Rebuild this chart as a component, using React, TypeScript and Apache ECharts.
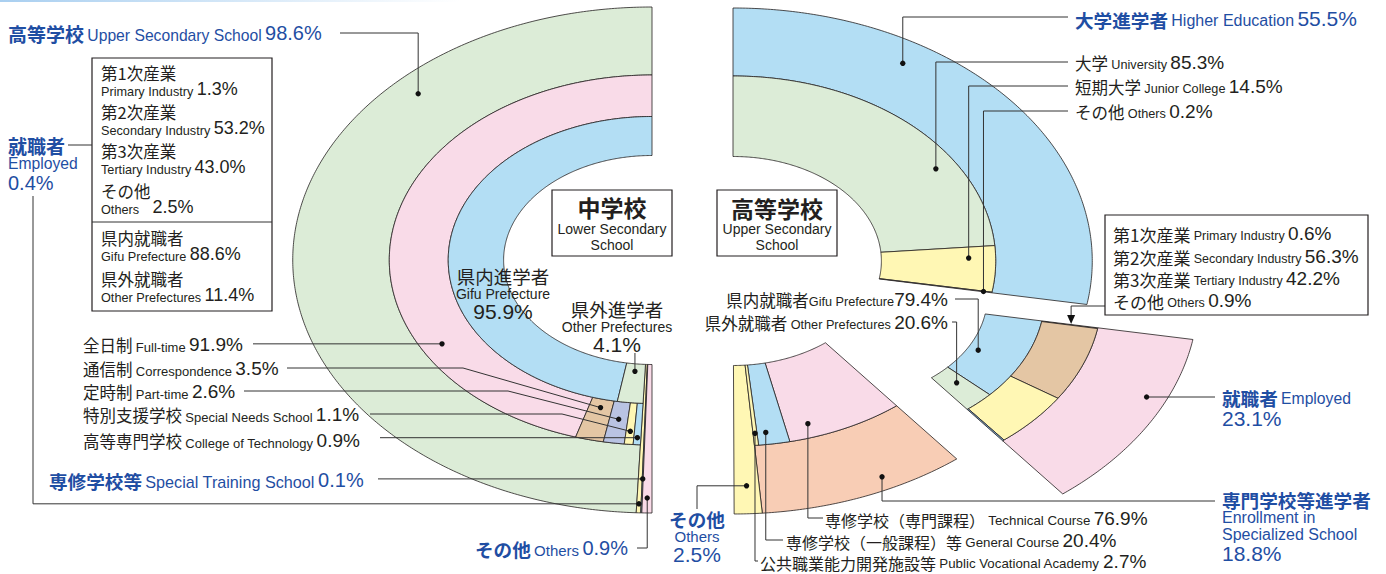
import React, { useEffect, useRef } from 'react';
import * as echarts from 'echarts';

const W = 1386;
const H = 574;

// ---------------- data ----------------
// 中学校 (Lower Secondary School) graduates
const jhCategories = ['高等学校', '就職者', '専修学校等', 'その他'];
const jhCategoriesEn = ['Upper Secondary School', 'Employed', 'Special Training School', 'Others'];
const jhValues = [98.6, 0.4, 0.1, 0.9];
const jhCourseCategories = ['全日制', '通信制', '定時制', '特別支援学校', '高等専門学校'];
const jhCourseEn = ['Full-time', 'Correspondence', 'Part-time', 'Special Needs School', 'College of Technology'];
const jhCourseValues = [91.9, 3.5, 2.6, 1.1, 0.9];
const jhPrefCategories = ['県内進学者', '県外進学者'];
const jhPrefEn = ['Gifu Prefecture', 'Other Prefectures'];
const jhPrefValues = [95.9, 4.1];
const jhIndustryCategories = ['第1次産業', '第2次産業', '第3次産業', 'その他'];
const jhIndustryEn = ['Primary Industry', 'Secondary Industry', 'Tertiary Industry', 'Others'];
const jhIndustryValues = [1.3, 53.2, 43.0, 2.5];
const jhEmpPrefCategories = ['県内就職者', '県外就職者'];
const jhEmpPrefEn = ['Gifu Prefecture', 'Other Prefectures'];
const jhEmpPrefValues = [88.6, 11.4];

// 高等学校 (Upper Secondary School) graduates
const hsCategories = ['大学進学者', '就職者', '専門学校等進学者', 'その他'];
const hsCategoriesEn = ['Higher Education', 'Employed', 'Enrollment in Specialized School', 'Others'];
const hsValues = [55.5, 23.1, 18.8, 2.5];
const hsUnivCategories = ['大学', '短期大学', 'その他'];
const hsUnivEn = ['University', 'Junior College', 'Others'];
const hsUnivValues = [85.3, 14.5, 0.2];
const hsEmpPrefCategories = ['県内就職者', '県外就職者'];
const hsEmpPrefEn = ['Gifu Prefecture', 'Other Prefectures'];
const hsEmpPrefValues = [79.4, 20.6];
const hsIndustryCategories = ['第1次産業', '第2次産業', '第3次産業', 'その他'];
const hsIndustryEn = ['Primary Industry', 'Secondary Industry', 'Tertiary Industry', 'Others'];
const hsIndustryValues = [0.6, 56.3, 42.2, 0.9];
const hsVocCategories = ['専修学校（専門課程）', '専修学校（一般課程）等', '公共職業能力開発施設等'];
const hsVocEn = ['Technical Course', 'General Course', 'Public Vocational Academy'];
const hsVocValues = [76.9, 20.4, 2.7];

// ---------------- layout / style ----------------
const SX = 1.42; // horizontal stretch of the drawing (x unit = 1.42px)
const DEG_PER_PCT = 1.8; // 100% = half circle
const R_IN = 104.5;
const R_MID = 143.5;
const R_EMP = 145;
const R_RING = 185;
const R_OUT = 253;
const LEFT_C = [652 / SX, 260];
const RIGHT_C = [733 / SX, 261];
const EXPLODE = [106 / SX, 35];

const BLUE = '#1f4ea3';
const INK = '#231f20';
const FF = "'Liberation Sans', 'Noto Sans CJK JP', sans-serif";
const JF = "'Noto Sans CJK JP', sans-serif";
const COL = {
  green: '#dcecd7',
  pink: '#f9dbe8',
  blue: '#b3def4',
  tan: '#e4c6a4',
  lav: '#b9c3e3',
  yellow: '#fff7b4',
  peach: '#f8cdb5',
  grey: '#8a8a8a',
  white: '#ffffff',
};

const fmt = (v: number) => v.toFixed(1) + '%';

type Slice = { key: string; cx: number; cy: number; a0: number; a1: number; r0: number; r1: number; fill: string };

function cuts(start: number, dir: number, values: number[], span?: number): [number, number][] {
  const tot = values.reduce((s, v) => s + v, 0);
  const k = span === undefined ? DEG_PER_PCT : span / tot;
  let a = start;
  return values.map((v) => {
    const b = a + dir * v * k;
    const r: [number, number] = [a, b];
    a = b;
    return r;
  });
}

function buildSlices(): Slice[] {
  const out: Slice[] = [];
  const add = (prefix: string, c: number[], ranges: [number, number][], radii: (i: number) => [number, number], fills: string[], keys?: string[]) => {
    ranges.forEach(([a0, a1], i) => {
      const [r0, r1] = radii(i);
      out.push({ key: keys ? keys[i] : prefix + i, cx: c[0], cy: c[1], a0, a1, r0, r1, fill: fills[i] });
    });
  };
  // left half (中学校): counter-clockwise from the top
  const jm = cuts(90, 1, jhValues);
  const hsSpan = Math.abs(jm[0][1] - jm[0][0]);
  add('jm', LEFT_C, jm, (i) => (i === 0 ? [R_RING, R_OUT] : [R_IN, R_OUT]), [COL.green, COL.yellow, COL.blue, COL.pink]);
  add('jc', LEFT_C, cuts(jm[0][0], 1, jhCourseValues, hsSpan), () => [R_MID, R_RING], [COL.pink, COL.tan, COL.lav, COL.yellow, COL.blue]);
  add('jp', LEFT_C, cuts(jm[0][0], 1, jhPrefValues, hsSpan), () => [R_IN, R_MID], [COL.blue, COL.green]);

  // right half (高等学校): clockwise from the top; 就職者 is pulled out
  const hm = cuts(90, -1, hsValues);
  const exC = [RIGHT_C[0] + EXPLODE[0], RIGHT_C[1] + EXPLODE[1]];
  add('hm', RIGHT_C, [hm[0], hm[2], hm[3]], (i) => (i === 2 ? [R_IN, R_OUT] : [R_RING, R_OUT]), [COL.blue, COL.peach, COL.yellow], ['hm0', 'hm2', 'hm3']);
  add('hm', exC, [hm[1]], () => [R_RING, R_OUT], [COL.pink], ['hm1']);
  const span = (r: [number, number]) => Math.abs(r[1] - r[0]);
  add('hu', RIGHT_C, cuts(hm[0][0], -1, hsUnivValues, span(hm[0])), () => [R_IN, R_RING], [COL.green, COL.yellow, COL.white]);
  add('he', exC, cuts(hm[1][0], -1, hsEmpPrefValues, span(hm[1])), () => [R_IN, R_EMP], [COL.blue, COL.green]);
  add('hi', exC, cuts(hm[1][0], -1, hsIndustryValues, span(hm[1])), () => [R_EMP, R_RING], [COL.grey, COL.tan, COL.yellow, '#7fa9cc']);
  add('hv', RIGHT_C, cuts(hm[2][0], -1, hsVocValues, span(hm[2])), () => [R_IN, R_RING], [COL.pink, COL.blue, COL.yellow]);
  return out;
}

type Leader = { key: string; frac: number; r: number; path: (p: number[]) => number[][]; arrow?: boolean };

const leaders: Leader[] = [
  // left
  { key: 'jm0', frac: 0.252, r: 234, path: (p) => [[340, 33], [p[0], 33], p] },
  { key: 'jm1', frac: 0.5, r: 244, path: (p) => [[33, 196], [33, p[1]], p] },
  { key: 'jm2', frac: 0.5, r: 219, path: (p) => [[378, p[1]], p] },
  { key: 'jm3', frac: 0.5, r: 238, path: (p) => [[637, 548], [p[0], 548], p] },
  { key: 'jc0', frac: 0.733, r: 170, path: (p) => [[253, p[1]], p] },
  { key: 'jc1', frac: 0.5, r: 152, path: (p) => [[287, 368], [463, 368], p] },
  { key: 'jc2', frac: 0.5, r: 161, path: (p) => [[244, 391], [508, 391], p] },
  { key: 'jc3', frac: 0.5, r: 172, path: (p) => [[370, 414], [562, 414], p] },
  { key: 'jc4', frac: 0.5, r: 178, path: (p) => [[380, p[1]], p] },
  { key: 'jp1', frac: 0.5, r: 112, path: (p) => [[p[0], 353], p] },
  // right
  { key: 'hm0', frac: 0.312, r: 231, path: (p) => [[1068, 17], [p[0], 17], p] },
  { key: 'hu0', frac: 0.671, r: 170, path: (p) => [[1068, 62], [p[0], 62], p] },
  { key: 'hu1', frac: 0.26, r: 166, path: (p) => [[1068, 86], [p[0], 86], p] },
  { key: 'hu2', frac: 0.5, r: 179, path: (p) => [[1068, 111], [p[0], 111], p] },
  { key: 'he0', frac: 0.576, r: 112, path: (p) => [[955, 299], [p[0], 299], p] },
  { key: 'he1', frac: 0.4, r: 120, path: (p) => [[952, 322], [p[0], 322], p] },
  { key: 'hi0', frac: 0.5, r: 166, arrow: true, path: (p) => [[1105, 306], [p[0], 306], [p[0], p[1] - 8]] },
  { key: 'hm1', frac: 0.363, r: 239, path: (p) => [[1215, 397], [p[0], 397], p] },
  { key: 'hm2', frac: 0.372, r: 240, path: (p) => [[1215, 501], [p[0], 501], p] },
  { key: 'hv0', frac: 0.79, r: 171, path: (p) => [[823, 518], [p[0], 518], p] },
  { key: 'hv1', frac: 0.7, r: 173, path: (p) => [[783, 540], [p[0], 540], p] },
  { key: 'hv2', frac: 0.5, r: 173, path: (p) => [[758, 561], [p[0], 561], p] },
  { key: 'hm3', frac: 0.5, r: 225, path: (p) => [[697, 509], [697, p[1]], p] },
];

function rich(j: number, e: number, n: number, color: string, bold: boolean) {
  return {
    j: { fontSize: j, fontFamily: JF, fontWeight: bold ? 'bold' : 'normal', fill: color, lineHeight: j, verticalAlign: 'bottom' },
    e: { fontSize: e, fontFamily: FF, fill: color, lineHeight: e, verticalAlign: 'bottom' },
    n: { fontSize: n, fontFamily: FF, fill: color, lineHeight: n, verticalAlign: 'bottom' },
  };
}

function T(x: number, y: number, text: string, r: any, align = 'left') {
  return {
    type: 'text',
    x,
    y,
    z: 100,
    silent: true,
    style: {
      text,
      rich: r,
      align,
      verticalAlign: 'middle',
      fontSize: 12,
      fontFamily: FF,
      fill: INK,
    },
  };
}

function box(x: number, y: number, w: number, h: number) {
  return {
    type: 'rect',
    z: 90,
    silent: true,
    shape: { x, y, width: w, height: h },
    style: { fill: '#fff', stroke: INK, lineWidth: 1.2 },
  };
}

function seg(x1: number, y1: number, x2: number, y2: number) {
  return {
    type: 'line',
    z: 95,
    silent: true,
    shape: { x1, y1, x2, y2 },
    style: { stroke: '#333', lineWidth: 1 },
  };
}

function buildGraphics() {
  const bl = rich(19, 15.7, 20, BLUE, true);
  const bk = rich(16.5, 12.7, 18, INK, false);
  const row = rich(16.5, 13, 19, INK, false);
  const g: any[] = [];

  // thin decorative band on top-left
  g.push({
    type: 'rect',
    z: 1,
    silent: true,
    shape: { x: 0, y: 0, width: 460, height: 2 },
    style: {
      fill: new echarts.graphic.LinearGradient(0, 0, 1, 0, [
        { offset: 0, color: '#a9cff0' },
        { offset: 1, color: 'rgba(169,207,240,0)' },
      ]),
    },
  });

  // ---- left half ----
  g.push(T(8, 33, `{j|${jhCategories[0]}} {e|${jhCategoriesEn[0]}} {n|${fmt(jhValues[0])}}`, bl));
  g.push(T(8, 145, `{j|${jhCategories[1]}}`, bl));
  g.push(T(8, 163, `{e|${jhCategoriesEn[1]}}`, bl));
  g.push(T(8, 183, `{n|${fmt(jhValues[1])}}`, bl));
  g.push(seg(68, 145, 92, 145));

  g.push(box(92, 58, 180, 253));
  g.push(seg(92, 222, 272, 222));
  const indY = [73, 112, 151, 191];
  jhIndustryCategories.forEach((c, i) => {
    g.push(T(101, indY[i], `{j|${c}}`, bk));
    const gap = i === 3 ? '    ' : ' ';
    g.push(T(101, indY[i] + 16, `{e|${jhIndustryEn[i]}}${gap}{n|${fmt(jhIndustryValues[i])}}`, bk));
  });
  const prefY = [238, 279];
  jhEmpPrefCategories.forEach((c, i) => {
    g.push(T(101, prefY[i], `{j|${c}}`, bk));
    g.push(T(101, prefY[i] + 16, `{e|${jhEmpPrefEn[i]}} {n|${fmt(jhEmpPrefValues[i])}}`, bk));
  });

  const rowY = [344, 368, 391, 414, 440];
  jhCourseCategories.forEach((c, i) => {
    g.push(T(83, rowY[i], `{j|${c}} {e|${jhCourseEn[i]}} {n|${fmt(jhCourseValues[i])}}`, row));
  });
  g.push(T(49, 480, `{j|${jhCategories[2]}} {e|${jhCategoriesEn[2]}} {n|${fmt(jhValues[2])}}`, rich(18.6, 16.2, 20, BLUE, true)));
  g.push(T(628, 548, `{j|${jhCategories[3]}} {e|${jhCategoriesEn[3]}} {n|${fmt(jhValues[3])}}`, rich(18.6, 15, 20, BLUE, true), 'right'));

  const mid = rich(18.5, 14, 21, INK, false);
  const prefX = [503, 617];
  const prefTop = [276, 309];
  jhPrefCategories.forEach((c, i) => {
    g.push(T(prefX[i], prefTop[i], `{j|${c}}`, mid, 'center'));
    g.push(T(prefX[i], prefTop[i] + 17.5, `{e|${jhPrefEn[i]}}`, mid, 'center'));
    g.push(T(prefX[i], prefTop[i] + 35.5, `{n|${fmt(jhPrefValues[i])}}`, mid, 'center'));
  });

  const ttl = rich(23, 14, 20, INK, true);
  g.push(box(552, 190, 120, 66));
  g.push(T(612, 207, '{j|中学校}', ttl, 'center'));
  g.push(T(612, 229, '{e|Lower Secondary}', ttl, 'center'));
  g.push(T(612, 245, '{e|School}', ttl, 'center'));
  g.push(box(717, 190, 120, 66));
  g.push(T(777, 208, '{j|高等学校}', ttl, 'center'));
  g.push(T(777, 229, '{e|Upper Secondary}', ttl, 'center'));
  g.push(T(777, 245, '{e|School}', ttl, 'center'));

  // ---- right half ----
  g.push(T(1075, 18, `{j|${hsCategories[0]}} {e|${hsCategoriesEn[0]}} {n|${fmt(hsValues[0])}}`, rich(18.6, 16, 21, BLUE, true)));
  const uni = rich(16.5, 12.7, 19, INK, false);
  const uniY = [62, 86, 111];
  hsUnivCategories.forEach((c, i) => {
    g.push(T(1075, uniY[i], `{j|${c}} {e|${hsUnivEn[i]}} {n|${fmt(hsUnivValues[i])}}`, uni));
  });

  g.push(box(1105, 215, 263, 100));
  const ind = rich(17, 12.5, 19, INK, false);
  const hiY = [233, 256, 278, 300];
  hsIndustryCategories.forEach((c, i) => {
    g.push(T(1113, hiY[i], `{j|${c}} {e|${hsIndustryEn[i]}} {n|${fmt(hsIndustryValues[i])}}`, ind));
  });

  g.push(T(948, 299, `{j|${hsEmpPrefCategories[0]}}{e|${hsEmpPrefEn[0]}}{n|${fmt(hsEmpPrefValues[0])}}`, uni, 'right'));
  g.push(T(948, 322, `{j|${hsEmpPrefCategories[1]}} {e|${hsEmpPrefEn[1]}} {n|${fmt(hsEmpPrefValues[1])}}`, uni, 'right'));

  const br = rich(18.6, 15.7, 21, BLUE, true);
  g.push(T(1222, 397, `{j|${hsCategories[1]}} {e|${hsCategoriesEn[1]}}`, br));
  g.push(T(1222, 418, `{n|${fmt(hsValues[1])}}`, br));
  const br2 = rich(18.6, 16, 21, BLUE, true);
  g.push(T(1222, 499, `{j|${hsCategories[2]}}`, br2));
  g.push(T(1222, 517, '{e|Enrollment in}', br2));
  g.push(T(1222, 534, '{e|Specialized School}', br2));
  g.push(T(1222, 553, `{n|${fmt(hsValues[2])}}`, br2));

  const voc = rich(16, 13.3, 19, INK, false);
  const vocX = [825, 786, 760];
  const vocY = [518, 540, 561];
  hsVocCategories.forEach((c, i) => {
    g.push(T(vocX[i], vocY[i], `{j|${c}} {e|${hsVocEn[i]}} {n|${fmt(hsVocValues[i])}}`, voc));
  });

  const oth = rich(18.6, 15, 21, BLUE, true);
  g.push(T(697, 518, `{j|${hsCategories[3]}}`, oth, 'center'));
  g.push(T(697, 536, `{e|${hsCategoriesEn[3]}}`, oth, 'center'));
  g.push(T(697, 554, `{n|${fmt(hsValues[3])}}`, oth, 'center'));

  return g;
}

function buildOption() {
  const slices = buildSlices();
  const byKey: Record<string, Slice> = {};
  slices.forEach((s) => (byKey[s.key] = s));
  const toRad = Math.PI / 180;

  return {
    animation: false,
    backgroundColor: '#ffffff',
    grid: { left: 0, right: 0, top: 0, bottom: 0 },
    xAxis: { type: 'value', min: 0, max: W / SX, show: false },
    yAxis: { type: 'value', min: 0, max: H, inverse: true, show: false },
    graphic: { elements: buildGraphics() },
    series: [
      {
        type: 'custom',
        name: 'slices',
        z: 2,
        silent: true,
        coordinateSystem: 'cartesian2d',
        data: slices.map((s) => [s.cx, s.cy]),
        renderItem: (params: any, api: any) => {
          const s = slices[params.dataIndex];
          const n = Math.max(2, Math.ceil(Math.abs(s.a1 - s.a0) / 0.5));
          const pts: number[][] = [];
          for (let i = 0; i <= n; i++) {
            const a = (s.a0 + ((s.a1 - s.a0) * i) / n) * toRad;
            pts.push(api.coord([s.cx + s.r0 * Math.cos(a), s.cy - s.r0 * Math.sin(a)]));
          }
          for (let i = n; i >= 0; i--) {
            const a = (s.a0 + ((s.a1 - s.a0) * i) / n) * toRad;
            pts.push(api.coord([s.cx + s.r1 * Math.cos(a), s.cy - s.r1 * Math.sin(a)]));
          }
          return {
            type: 'polygon',
            shape: { points: pts },
            style: { fill: s.fill, stroke: INK, lineWidth: 0.8, lineJoin: 'round' },
          };
        },
      },
      {
        type: 'custom',
        name: 'leaders',
        z: 5,
        silent: true,
        coordinateSystem: 'cartesian2d',
        data: leaders.map((l) => [byKey[l.key].cx, byKey[l.key].cy]),
        renderItem: (params: any, api: any) => {
          const l = leaders[params.dataIndex];
          const s = byKey[l.key];
          const a = (s.a0 + (s.a1 - s.a0) * l.frac) * toRad;
          const p = api.coord([s.cx + l.r * Math.cos(a), s.cy - l.r * Math.sin(a)]);
          const children: any[] = [
            {
              type: 'polyline',
              shape: { points: l.path(p) },
              style: { stroke: '#333', lineWidth: 1, fill: 'none' },
            },
          ];
          if (l.arrow) {
            children.push({
              type: 'polygon',
              shape: { points: [[p[0] - 4, p[1] - 10], [p[0] + 4, p[1] - 10], [p[0], p[1] - 1]] },
              style: { fill: '#111', stroke: 'none' },
            });
          } else {
            children.push({ type: 'circle', shape: { cx: p[0], cy: p[1], r: 2.7 }, style: { fill: '#111', stroke: 'none' } });
          }
          return { type: 'group', children };
        },
      },
    ],
  };
}

export default function App() {
  const ref = useRef<HTMLDivElement>(null);
  useEffect(() => {
    document.body.style.margin = '0';
    const chart = echarts.init(ref.current as HTMLDivElement, null, { renderer: 'svg' });
    chart.setOption(buildOption() as any);
    return () => chart.dispose();
  }, []);
  return <div ref={ref} style={{ width: W, height: H, background: '#fff' }} />;
}
